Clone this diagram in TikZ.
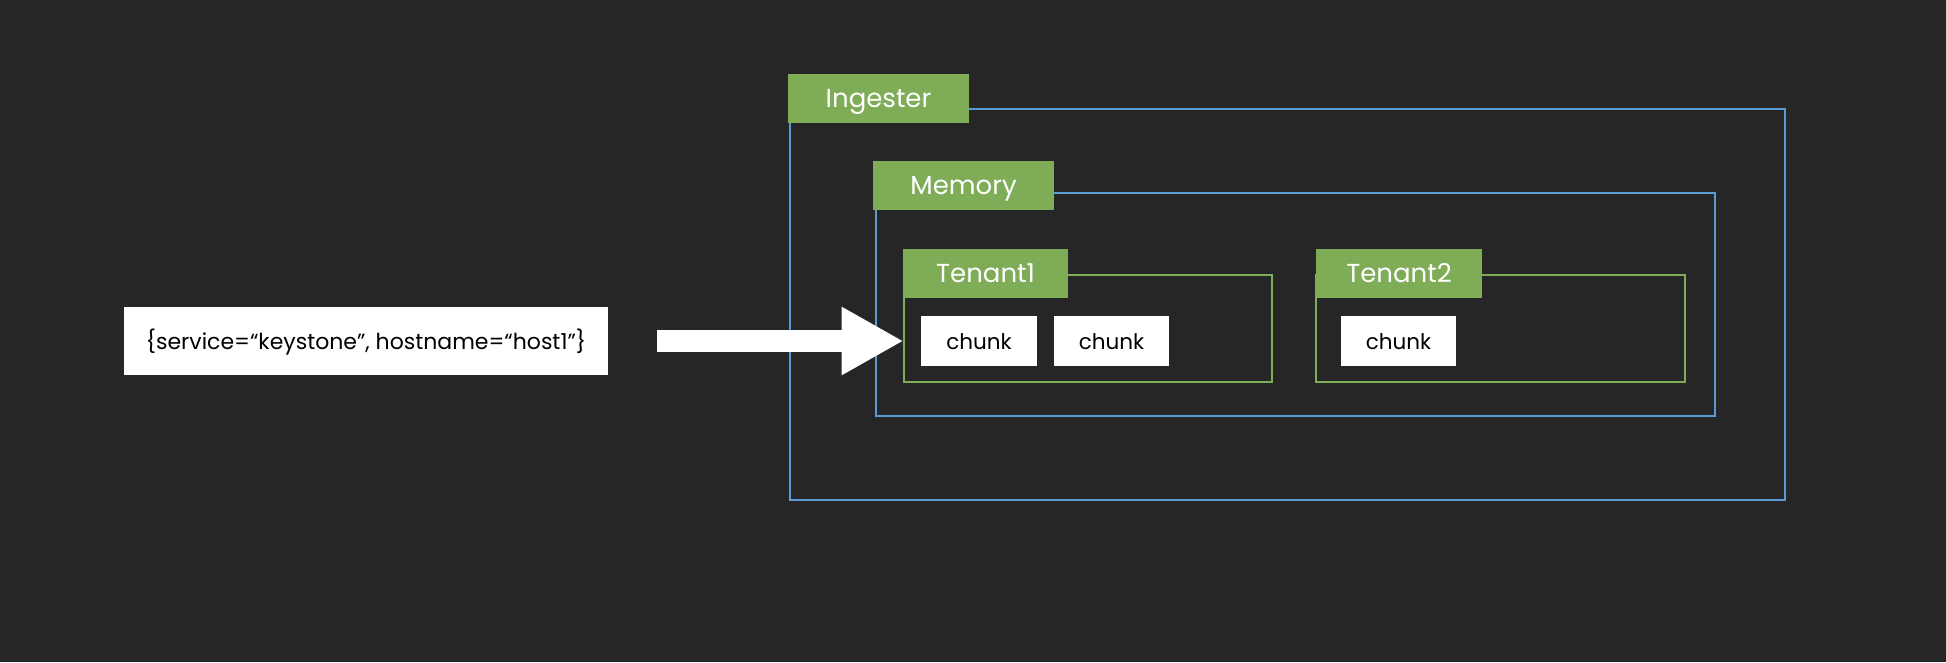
\documentclass[tikz,border=0pt]{standalone}
\usepackage{fontspec}
\setmainfont{Poppins}
\usetikzlibrary{arrows.meta}
\definecolor{bgc}{HTML}{262626}
\definecolor{grn}{HTML}{7FAC57}
\definecolor{blu}{HTML}{5B9BD5}
\tikzset{
  bluebox/.style={draw=blu, line width=2pt, inner sep=0pt, outer sep=0pt},
  grnbox/.style={draw=grn, line width=2pt, inner sep=0pt, outer sep=0pt},
  tag/.style={fill=grn, text=white, inner sep=0pt, outer sep=0pt, minimum height=49pt, text height=18pt, text depth=0pt, font=\fontsize{26}{30}\selectfont},
  chunkbox/.style={fill=white, text=black, inner sep=0pt, outer sep=0pt, minimum width=116pt, minimum height=50pt, text height=16pt, text depth=0pt, font=\fontsize{21.5}{25}\selectfont},
}
\begin{document}
\begin{tikzpicture}[x=1pt,y=-1pt]
\fill[bgc] (0,0) rectangle (1946,662);
% Ingester
\node[bluebox, minimum width=995pt, minimum height=391pt] (ingbox) at (1287.5,304.5) {};
\node[tag, minimum width=181pt] (ing) at (878.5,98.5) {Ingester};
% Memory
\node[bluebox, minimum width=839pt, minimum height=223pt] (membox) at (1295.5,304.5) {};
\node[tag, minimum width=181pt] (mem) at (963.5,185.5) {Memory};
% Tenant1
\node[grnbox, minimum width=368pt, minimum height=107pt] (t1box) at (1087.5,328.5) {};
\node[tag, minimum width=165pt] (t1) at (985.5,273.5) {Tenant1};
\node[chunkbox] (c1) at (979,341) {chunk\hspace{11pt}};
\node[chunkbox, minimum width=115pt] (c2) at (1111.5,341) {chunk\hspace{11pt}};
% Tenant2
\node[grnbox, minimum width=369pt, minimum height=107pt] (t2box) at (1500.5,328.5) {};
\node[tag, minimum width=166pt] (t2) at (1399,273.5) {Tenant2};
\node[chunkbox, minimum width=115pt] (c3) at (1398.5,341) {chunk\hspace{11pt}};
% label
\node[fill=white, text=black, inner sep=0pt, minimum width=484pt, minimum height=68pt, text height=16pt, text depth=0pt, font=\fontsize{22}{26}\selectfont] (lbl) at (366,341) {\{service=“keystone”, hostname=“host1”\}};
% arrow
\coordinate (arrS) at (657,341);
\draw[white, line width=22pt, -{Triangle[length=62pt,width=64pt]}] (arrS) -- (arrS -| t1box.west);
\end{tikzpicture}
\end{document}
